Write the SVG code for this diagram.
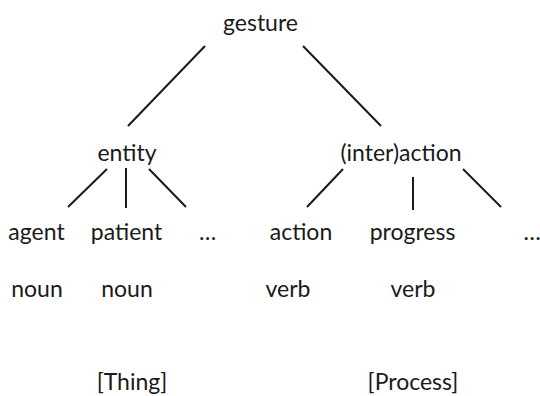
<svg xmlns="http://www.w3.org/2000/svg" width="540" height="396" viewBox="0 0 540 396">
<style>
text{font-family:Lato,"Open Sans","Liberation Sans",sans-serif;font-size:23px;fill:#1a1a1a;text-anchor:middle}
.c line{stroke:#1a1a1a;stroke-width:2;stroke-linecap:butt}
</style>
<rect width="540" height="396" fill="#fff"/>
<g class="c" id="connectors">
<line x1="205" y1="46" x2="128" y2="126"/>
<line x1="303" y1="46" x2="381" y2="126"/>
<line x1="107" y1="169" x2="68" y2="207"/>
<line x1="126" y1="168" x2="126" y2="208"/>
<line x1="149" y1="169" x2="186" y2="207"/>
<line x1="343" y1="169" x2="307" y2="207"/>
<line x1="413" y1="177" x2="413" y2="210"/>
<line x1="463" y1="169" x2="501" y2="207"/>
</g>
<g id="gesture"><text x="260.5" y="31">gesture</text></g>
<g id="entity"><text x="127" y="161">entity</text></g>
<g id="interaction"><text x="401" y="161">(inter)action</text></g>
<g id="agent"><text x="36.5" y="240">agent</text></g>
<g id="patient"><text x="126.5" y="240">patient</text></g>
<g id="etc1"><text x="207.5" y="240">…</text></g>
<g id="action"><text x="301" y="240">action</text></g>
<g id="progress"><text x="412.5" y="240">progress</text></g>
<g id="etc2"><text x="532" y="240">…</text></g>
<g id="noun1"><text x="37" y="297">noun</text></g>
<g id="noun2"><text x="127" y="297">noun</text></g>
<g id="verb1"><text x="288" y="297">verb</text></g>
<g id="verb2"><text x="413" y="297">verb</text></g>
<g id="thing"><text x="132" y="390">[Thing]</text></g>
<g id="process"><text x="413" y="390">[Process]</text></g>
</svg>
